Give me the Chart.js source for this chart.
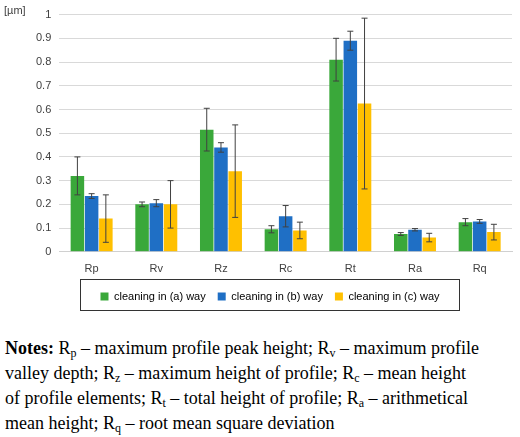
<!DOCTYPE html>
<html><head><meta charset="utf-8">
<script src="https://cdn.jsdelivr.net/npm/chart.js@4"></script>
<style>
body{margin:0;background:#fff;width:520px;height:437px;overflow:hidden}
#wrap{position:relative;width:520px;height:318px}
#notes{font-family:"Liberation Serif","Times New Roman",serif;font-size:18px;line-height:25px;margin:18px 0 0 5px;white-space:nowrap;color:#000}
sub{font-size:12px;vertical-align:-3px;line-height:0}
</style></head><body>
<div id="wrap"><canvas id="c"></canvas></div>
<div id="notes"><b>Notes:</b> R<sub>p</sub> – maximum profile peak height; R<sub>v</sub> – maximum profile<br>valley depth; R<sub>z</sub> – maximum height of profile; R<sub>c</sub> – mean height<br>of profile elements; R<sub>t</sub> – total height of profile; R<sub>a</sub> – arithmetical<br>mean height; R<sub>q</sub> – root mean square deviation</div>
<script>
const categories = ['Rp', 'Rv', 'Rz', 'Rc', 'Rt', 'Ra', 'Rq'];
const seriesNames = ['cleaning in (a) way', 'cleaning in (b) way', 'cleaning in (c) way'];
const seriesA = [0.32, 0.20, 0.515, 0.095, 0.81, 0.075, 0.125];
const seriesB = [0.235, 0.205, 0.44, 0.15, 0.89, 0.093, 0.128];
const seriesC = [0.14, 0.20, 0.34, 0.09, 0.625, 0.06, 0.083];
const errA = [0.08, 0.01, 0.09, 0.015, 0.09, 0.006, 0.015];
const errB = [0.01, 0.015, 0.02, 0.045, 0.04, 0.005, 0.008];
const errC = [0.10, 0.10, 0.195, 0.035, 0.36, 0.018, 0.033];
const colors = ['#3aa83a', '#1f6fc5', '#ffc000'];

const errorBars = {
  id: 'errorBars',
  afterDatasetsDraw(chart) {
    const ctx = chart.ctx, y = chart.scales.y;
    const errs = [errA, errB, errC];
    ctx.save();
    ctx.strokeStyle = '#404040';
    ctx.lineWidth = 1;
    chart.data.datasets.forEach((ds, i) => {
      chart.getDatasetMeta(i).data.forEach((bar, j) => {
        const v = ds.data[j], e = errs[i][j];
        const top = y.getPixelForValue(v + e), bot = y.getPixelForValue(v - e);
        ctx.beginPath();
        ctx.moveTo(bar.x, top); ctx.lineTo(bar.x, bot);
        ctx.moveTo(bar.x - 3, top); ctx.lineTo(bar.x + 3, top);
        ctx.moveTo(bar.x - 3, bot); ctx.lineTo(bar.x + 3, bot);
        ctx.stroke();
      });
    });
    ctx.restore();
  }
};
const legendBox = {
  id: 'legendBox',
  afterDraw(chart) {
    const l = chart.legend, ctx = chart.ctx;
    const boxes = l.legendHitBoxes;
    const x0 = boxes[0].left - 20, x1 = boxes[boxes.length - 1].left + boxes[boxes.length - 1].width + 20;
    ctx.save();
    ctx.strokeStyle = '#333';
    ctx.lineWidth = 1;
    ctx.strokeRect(Math.round(x0) + 0.5, Math.round(l.top) + 0.5, Math.round(x1 - x0), Math.round(l.height) - 2);
    ctx.fillStyle = '#404040';
    ctx.font = '11px "Liberation Sans", Arial, sans-serif';
    ctx.fillText('[µm]', 4, 11);
    ctx.restore();
  }
};

new Chart(document.getElementById('c'), {
  type: 'bar',
  data: {
    labels: categories,
    datasets: [seriesA, seriesB, seriesC].map((d, i) => ({
      label: seriesNames[i], data: d, backgroundColor: colors[i],
      categoryPercentage: 0.66, barPercentage: 0.95
    }))
  },
  options: {
    responsive: true, maintainAspectRatio: false, animation: false,
    layout: { padding: { left: 28, right: 8, top: 0, bottom: 6 } },
    plugins: {
      legend: {
        position: 'bottom',
        labels: { boxWidth: 8, boxHeight: 8, padding: 12, color: '#000',
          font: { size: 11, family: '"Liberation Sans", Arial, sans-serif' } }
      },
      tooltip: { enabled: false }
    },
    scales: {
      x: {
        grid: { display: false },
        border: { color: '#d0d0d0' },
        ticks: { color: '#404040', font: { size: 11, family: '"Liberation Sans", Arial, sans-serif' } }
      },
      y: {
        min: 0, max: 1,
        border: { display: false },
        grid: { color: '#d9d9d9', drawTicks: false },
        ticks: { stepSize: 0.1, padding: 8, color: '#404040',
          font: { size: 11, family: '"Liberation Sans", Arial, sans-serif' },
          callback: v => Math.round(v * 10) / 10 }
      }
    }
  },
  plugins: [errorBars, legendBox]
});
</script>
</body></html>
